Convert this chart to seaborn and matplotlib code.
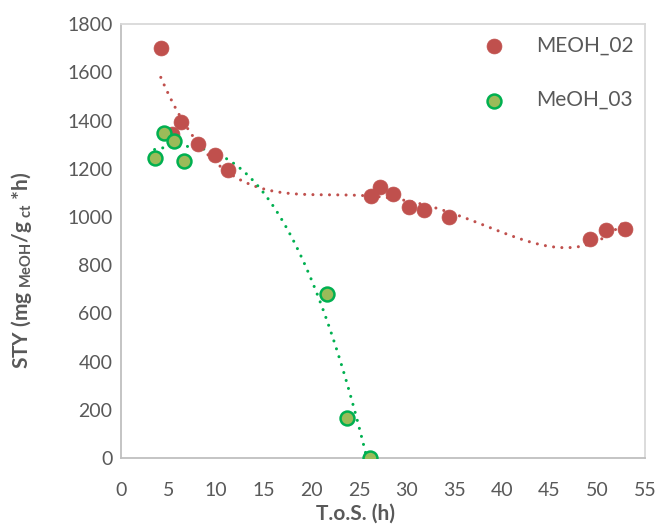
import numpy as np
import pandas as pd
import seaborn as sns
import matplotlib.pyplot as plt

# MEOH_02 run
tos_02 = [4.2, 5.35, 6.3, 8.1, 9.85, 11.3, 26.3, 27.2, 28.6, 30.2, 31.8, 34.4, 49.2, 50.95, 52.9]
sty_02 = [1700, 1343, 1395, 1302, 1258, 1196, 1086, 1124, 1097, 1042, 1028, 999, 907, 947, 952]

# MeOH_03 run
tos_03 = [3.55, 4.55, 5.55, 6.6, 21.6, 23.7, 26.15]
sty_03 = [1247, 1349, 1317, 1233, 682, 165, 1]

red = "#C0504D"
green_face = "#9BBB59"
green_edge = "#00B050"
txt = "#595959"

sns.set_theme(style="white")
plt.rcParams["font.family"] = ["Lato", "DejaVu Sans"]
plt.rcParams["mathtext.fontset"] = "custom"
plt.rcParams["mathtext.rm"] = "Lato:bold"
plt.rcParams["mathtext.it"] = "Lato:bold"
plt.rcParams["mathtext.bf"] = "Lato:bold"

d02 = pd.DataFrame({"tos": tos_02, "sty": sty_02})
d03 = pd.DataFrame({"tos": tos_03, "sty": sty_03})

fig = plt.figure(figsize=(6.6, 5.26), dpi=100)
ax = fig.add_axes([0.183, 0.129, 0.794, 0.825])

dots = (0, (0.01, 2.7))
sns.regplot(data=d02, x="tos", y="sty", order=4, ci=None, scatter=False, ax=ax,
            line_kws=dict(color=red, lw=2.2, linestyle=dots, dash_capstyle="round"))
sns.regplot(data=d03, x="tos", y="sty", order=3, ci=None, scatter=False, ax=ax,
            line_kws=dict(color=green_edge, lw=2.2, linestyle=dots, dash_capstyle="round"))

sns.scatterplot(data=d02, x="tos", y="sty", ax=ax, s=115, color=red,
                edgecolor=red, linewidth=0.5, label="MEOH_02", zorder=3)
sns.scatterplot(data=d03, x="tos", y="sty", ax=ax, s=100, color=green_face,
                edgecolor=green_edge, linewidth=1.8, label="MeOH_03", zorder=4)

ax.set_xlim(0, 55)
ax.set_ylim(0, 1800)
ax.set_xticks(range(0, 56, 5))
ax.set_yticks(range(0, 1801, 200))
ax.tick_params(labelsize=14, colors=txt, length=0)
ax.tick_params(axis="x", pad=17)
ax.tick_params(axis="y", pad=6)

for side in ["top", "right"]:
    ax.spines[side].set_color("#D9D9D9")
for side in ["left", "bottom"]:
    ax.spines[side].set_color("#BFBFBF")
for sp in ax.spines.values():
    sp.set_linewidth(1.3)

ax.set_xlabel("T.o.S. (h)", fontsize=15, fontweight="bold", color=txt, va="center")
ax.set_ylabel(r"STY (mg$_{\mathrm{\ MeOH}}$/g$_{\mathrm{\ ct}}$ *h)", fontsize=15,
              fontweight="bold", color=txt, va="center")
ax.xaxis.set_label_coords(0.4475, -0.128)
ax.yaxis.set_label_coords(-0.19, 0.433)

leg = ax.legend(loc="upper right", bbox_to_anchor=(1.0, 1.0), frameon=False,
                fontsize=15, labelspacing=1.65, handletextpad=1.0,
                borderaxespad=0.15, markerscale=1.0)
for t in leg.get_texts():
    t.set_color(txt)

fig.savefig("out.png", dpi=100)
